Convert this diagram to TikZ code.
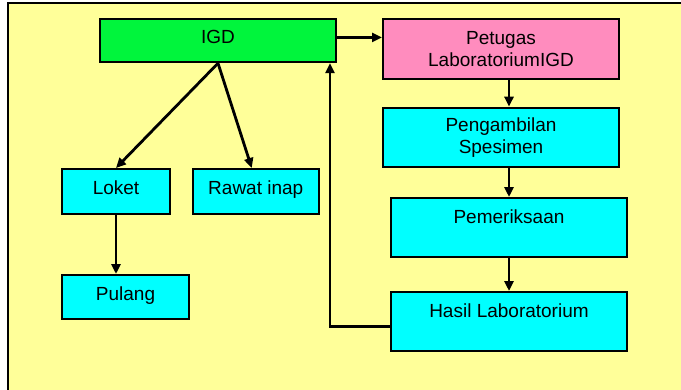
\documentclass[tikz,border=0pt]{standalone}
\usepackage{fontspec}
\setmainfont{Liberation Sans}
\usetikzlibrary{arrows.meta}
\definecolor{bgyellow}{RGB}{255,255,153}
\definecolor{boxgreen}{RGB}{0,245,60}
\definecolor{boxpink}{RGB}{255,140,190}
\definecolor{boxcyan}{RGB}{0,255,255}
\tikzset{
  box/.style={draw=black, line width=2pt, inner sep=0pt, anchor=north west, align=center,
    font=\fontsize{19pt}{22pt}\selectfont},
  one/.style={text height=25pt, text depth=#1},
  arr/.style={line width=2.8pt, -{Triangle[length=10pt,width=9pt]}}
}
\begin{document}
\begin{tikzpicture}[x=1pt,y=-1pt]
\useasboundingbox (0,0) rectangle (681,389);
\clip (0,0) rectangle (681,389);
\fill[white] (0,0) rectangle (681,389);
\draw[line width=2pt, fill=bgyellow] (8,3.3) rectangle (700,400);

\node[box, fill=boxgreen, minimum width=236pt, one=18.5pt] (igd) at (99,17.7) {IGD};
\node[box, fill=boxpink, minimum width=236pt, minimum height=60pt] (pet) at (382,17.7) {Petugas\\LaboratoriumIGD};
\node[box, fill=boxcyan, minimum width=236pt, minimum height=59pt] (peng) at (382,106.7) {Pengambilan\\Spesimen};
\node[box, fill=boxcyan, minimum width=236pt, one=34pt] (pem) at (390,197) {Pemeriksaan};
\node[box, fill=boxcyan, minimum width=236pt, one=34.3pt] (hasil) at (390,291) {Hasil Laboratorium};
\node[box, fill=boxcyan, minimum width=108pt, one=20pt] (loket) at (61,168) {Loket};
\node[box, fill=boxcyan, minimum width=126.5pt, one=20pt] (rawat) at (191.5,168) {Rawat inap};
\node[box, fill=boxcyan, minimum width=127pt, one=19pt] (pulang) at (61,274) {Pulang};

\draw[arr] ([yshift=3pt]igd.east) -- ([yshift=3pt]igd.east -| pet.west);
\draw[arr] (igd.south) -- (loket.north);
\draw[arr] (igd.south) -- ([xshift=-4pt]rawat.north);
\draw[arr] (pet.south -| pem.north) -- (peng.north -| pem.north);
\draw[arr] (peng.south -| pem.north) -- (pem.north);
\draw[arr] (pem.south) -- (hasil.north);
\draw[arr] (loket.south) -- (loket.south |- pulang.north);
\draw[arr] ([yshift=-5pt]hasil.west) -| ([xshift=-7pt]igd.south east);
\end{tikzpicture}
\end{document}
